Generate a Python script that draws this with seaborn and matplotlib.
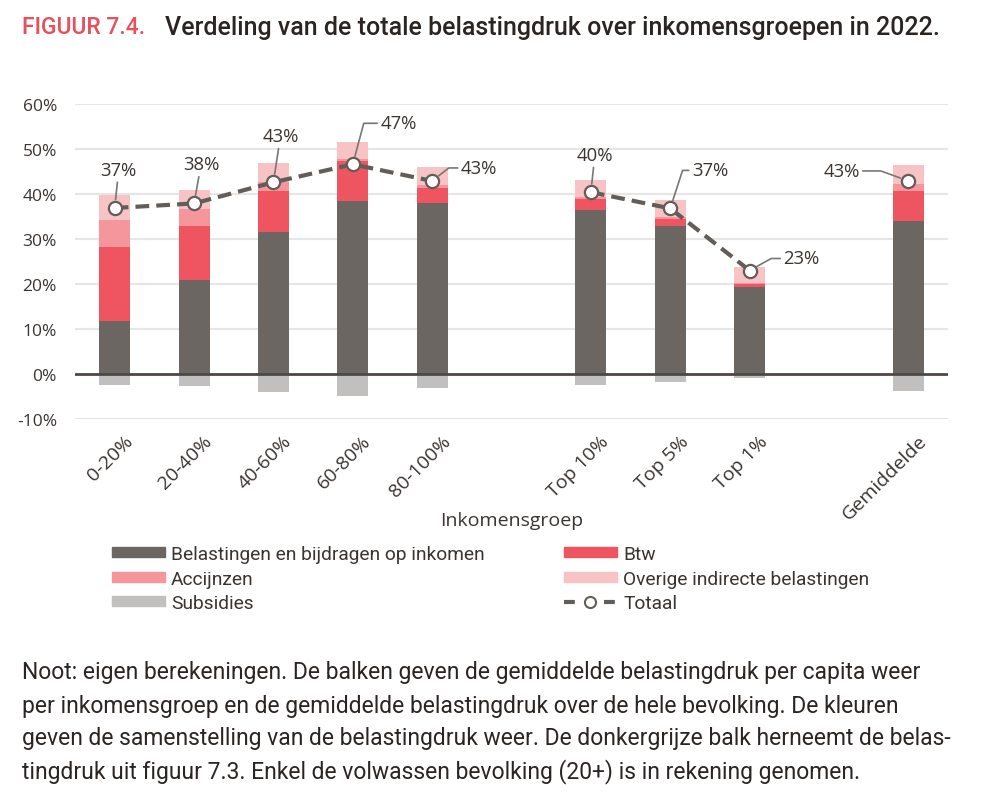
import matplotlib
import matplotlib.pyplot as plt
import matplotlib.transforms as mtransforms
import pandas as pd
import seaborn as sns
from matplotlib.lines import Line2D
from matplotlib.patches import Patch

matplotlib.use("Agg")

# ---------------------------------------------------------------------------
# Data (percent of income)
# ---------------------------------------------------------------------------
groups    = ["0-20%", "20-40%", "40-60%", "60-80%", "80-100%",
             "Top 10%", "Top 5%", "Top 1%", "Gemiddelde"]
positions = [0, 1, 2, 3, 4, 6, 7, 8, 10]          # gaps between the blocks
segments  = ["kwintiel"] * 5 + ["top"] * 3 + ["gemiddelde"]

inkomen   = [11.7, 20.8, 31.5, 38.5, 38.0, 36.4, 33.0, 19.3, 34.1]
btw       = [16.6, 12.0, 9.2, 8.9, 3.3, 2.5, 1.4, 0.6, 6.6]
accijnzen = [5.9, 3.9, 2.0, 0.3, 0.7, 0.4, 0.6, 0.3, 1.5]
overige   = [5.6, 4.2, 4.1, 3.8, 4.0, 3.8, 3.7, 3.6, 4.2]
subsidies = [-2.4, -2.7, -4.1, -4.8, -3.2, -2.4, -1.7, -0.8, -3.7]
totaal    = [36.9, 37.9, 42.6, 46.6, 42.9, 40.4, 36.8, 23.0, 42.9]

yticks = [-10, 0, 10, 20, 30, 40, 50, 60]

# ---------------------------------------------------------------------------
# Style
# ---------------------------------------------------------------------------
C_INK  = "#6b6661"
C_BTW  = "#ee5560"
C_ACC  = "#f4969b"
C_OVR  = "#f8c3c5"
C_SUB  = "#c2c0be"
C_LINE = "#625d58"
C_TEXT = "#3a3431"
C_RED  = "#e8505b"

FONT_AXIS = ["Open Sans", "DejaVu Sans"]
FONT_BODY = ["Roboto", "DejaVu Sans"]

sns.set_theme(style="white")
plt.rcParams["font.family"] = FONT_AXIS
plt.rcParams["text.color"] = C_TEXT

df = pd.DataFrame({
    "groep": groups, "pos": positions, "segment": segments,
    "inkomen": inkomen, "btw": btw, "accijnzen": accijnzen,
    "overige": overige, "subsidies": subsidies, "totaal": totaal,
})
# cumulative tops for the stacked bars
df["top_ink"] = df["inkomen"]
df["top_btw"] = df["top_ink"] + df["btw"]
df["top_acc"] = df["top_btw"] + df["accijnzen"]
df["top_ovr"] = df["top_acc"] + df["overige"]

fig = plt.figure(figsize=(10, 8.04), dpi=100)
ax = fig.add_axes([0.075, 1 - 420 / 804, 0.873, 315 / 804])

BAR_W = 0.39
for col, color in [("top_ovr", C_OVR), ("top_acc", C_ACC),
                   ("top_btw", C_BTW), ("top_ink", C_INK),
                   ("subsidies", C_SUB)]:
    sns.barplot(data=df, x="pos", y=col, native_scale=True, width=BAR_W,
                color=color, saturation=1, errorbar=None, linewidth=0,
                edgecolor="none", ax=ax, zorder=2)

sns.lineplot(data=df, x="pos", y="totaal", units="segment", estimator=None,
             color=C_LINE, lw=3, linestyle=(0, (3.3, 1.7)),
             marker="o", markersize=9.5, markerfacecolor="white",
             markeredgecolor=C_LINE, markeredgewidth=1.6, ax=ax, zorder=5)

# grid + zero line
for t in yticks:
    if t != 0:
        ax.axhline(t, color="#e6e6e6", lw=1.5, zorder=0)
ax.axhline(0, color="#4d4845", lw=2, zorder=4)

ax.set_xlim(-0.5, 10.5)
ax.set_ylim(-10, 60)
ax.set_yticks(yticks, [f"{t}%" for t in yticks])
ax.tick_params(axis="y", length=0, pad=13, labelsize=12.5, labelcolor=C_TEXT)
ax.set_xticks(positions, groups, rotation=45, ha="right",
              rotation_mode="anchor")
ax.tick_params(axis="x", length=0, pad=9, labelsize=14, labelcolor=C_TEXT)
shift = mtransforms.ScaledTranslation(9 / 100, 0, fig.dpi_scale_trans)
for lab in ax.get_xticklabels():
    lab.set_transform(lab.get_transform() + shift)
ax.set_xlabel("Inkomensgroep", fontsize=14, color=C_TEXT)
ax.xaxis.set_label_coords(0.5, (420 - 521) / 315)
ax.xaxis.label.set_va("center")
ax.set_ylabel("")
sns.despine(ax=ax, left=True, bottom=True)

# value labels with leader lines: (dx, dy) text offset in px, bend angle
label_offsets = [(4, 38, None), (7, 39, None), (7, 46, None), (46, 41, 75),
                 (47, 13, 38), (4, 37, None), (40, 38, 72), (52, 12, 29),
                 (-67, 10, -20)]
for (x, y), (dx, dy, ang) in zip(zip(df["pos"], df["totaal"]), label_offsets):
    style = "arc3,rad=0" if ang is None else f"angle,angleA=0,angleB={ang},rad=0"
    ax.annotate(f"{round(y)}%", xy=(x, y), xytext=(dx, dy),
                textcoords="offset pixels", ha="center", va="center",
                fontsize=13.3, color=C_TEXT, zorder=6,
                arrowprops=dict(arrowstyle="-", color="#7a7672", lw=1.2,
                                shrinkA=0, shrinkB=6, connectionstyle=style))

# legend, two separate columns
leg_kw = dict(frameon=False, handlelength=2.75, handleheight=0.42,
              handletextpad=0.33, labelspacing=0.34, borderaxespad=0,
              borderpad=0, prop={"family": FONT_BODY, "size": 13.8})
h_ink = Patch(color=C_INK, label="Belastingen en bijdragen op inkomen")
h_acc = Patch(color=C_ACC, label="Accijnzen")
h_sub = Patch(color=C_SUB, label="Subsidies")
h_btw = Patch(color=C_BTW, label="Btw")
h_ovr = Patch(color=C_OVR, label="Overige indirecte belastingen")
h_tot = Line2D([], [], color=C_LINE, lw=3, linestyle=(0, (2.6, 7.0)),
               marker="o", markersize=8, markerfacecolor="white",
               markeredgecolor=C_LINE, markeredgewidth=1.5, label="Totaal")
leg1 = fig.legend(handles=[h_ink, h_acc, h_sub], loc="upper left",
                  bbox_to_anchor=(0.112, 1 - 546 / 804), **leg_kw)
leg2 = fig.legend(handles=[h_btw, h_ovr, h_tot], loc="upper left",
                  bbox_to_anchor=(0.564, 1 - 546 / 804), **leg_kw)
for leg in (leg1, leg2):
    for t in leg.get_texts():
        t.set_color(C_TEXT)

# title
fig.text(0.022, 1 - 28 / 804, "FIGUUR 7.4.", fontsize=16.5, color=C_RED,
         family=FONT_BODY, weight="medium", va="center")
fig.text(0.165, 1 - 28 / 804,
         "Verdeling van de totale belastingdruk over inkomensgroepen in 2022.",
         fontsize=18, color="#2a2522", family=FONT_BODY, weight="medium",
         va="center")

# note
note_lines = [
    "Noot: eigen berekeningen. De balken geven de gemiddelde belastingdruk per capita weer",
    "per inkomensgroep en de gemiddelde belastingdruk over de hele bevolking. De kleuren",
    "geven de samenstelling van de belastingdruk weer. De donkergrijze balk herneemt de belas-",
    "tingdruk uit figuur 7.3. Enkel de volwassen bevolking (20+) is in rekening genomen.",
]
for i, line in enumerate(note_lines):
    fig.text(0.022, 1 - (673 + 33 * i) / 804, line, fontsize=16.5,
             color="#2a2522", family=FONT_BODY, va="center")

fig.savefig("out.png", dpi=100)
